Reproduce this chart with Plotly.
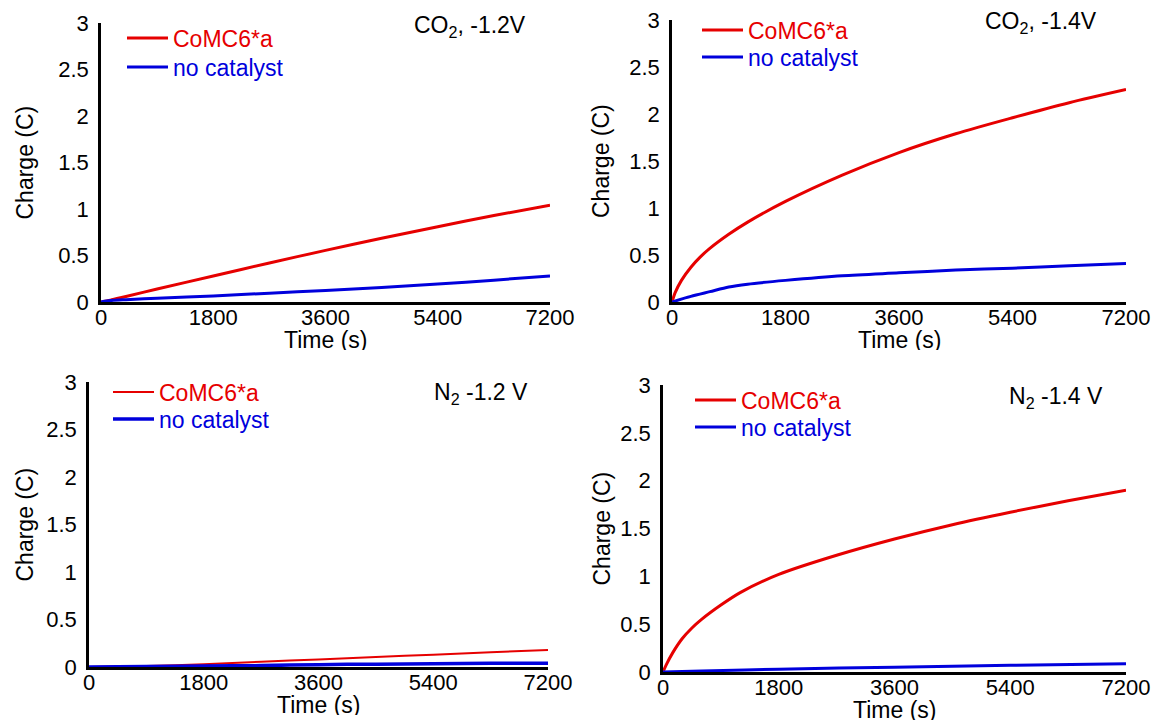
import plotly.graph_objects as go

W, H = 1155, 721

# ---------------- data ----------------
# Panel 1: CO2, -1.2 V
t_p1 = [0, 150, 400, 900, 1800, 2700, 3600, 4500, 5400, 6300, 7200]
q_p1_cat = [0, 0.02, 0.06, 0.14, 0.28, 0.42, 0.555, 0.685, 0.81, 0.93, 1.04]
q_p1_none = [0, 0.015, 0.025, 0.04, 0.065, 0.095, 0.125, 0.157, 0.193, 0.235, 0.28]

# Panel 2: CO2, -1.4 V
t_p2_cat = [0, 50, 150, 300, 450, 600, 900, 1200, 1800, 2700, 3600, 4500, 5400, 6300, 7200]
q_p2_cat = [0, 0.10, 0.23, 0.37, 0.48, 0.57, 0.72, 0.85, 1.07, 1.35, 1.59, 1.79, 1.96, 2.12, 2.26]
t_p2_none = [0, 300, 600, 900, 1200, 1800, 2700, 3600, 4500, 5400, 6300, 7200]
q_p2_none = [0, 0.06, 0.11, 0.16, 0.19, 0.23, 0.28, 0.31, 0.34, 0.36, 0.385, 0.41]

# Panel 3: N2 -1.2 V
t_p3 = [0, 900, 1800, 2700, 3600, 4500, 5400, 6300, 7200]
q_p3_cat = [0, 0.01, 0.03, 0.055, 0.08, 0.105, 0.13, 0.155, 0.18]
q_p3_none = [0, 0.005, 0.01, 0.015, 0.025, 0.03, 0.035, 0.04, 0.04]

# Panel 4: N2 -1.4 V
t_p4_cat = [0, 50, 150, 300, 450, 600, 900, 1200, 1800, 2700, 3600, 4500, 5400, 6300, 7200]
q_p4_cat = [0, 0.075, 0.20, 0.35, 0.46, 0.55, 0.70, 0.83, 1.02, 1.22, 1.39, 1.54, 1.67, 1.79, 1.90]
t_p4_none = [0, 600, 1800, 3600, 5400, 7200]
q_p4_none = [0, 0.01, 0.03, 0.05, 0.07, 0.085]

series_names = ["CoMC6*a", "no catalyst"]
panel_labels = ["CO<sub>2</sub>, -1.2V", "CO<sub>2</sub>, -1.4V",
                "N<sub>2</sub> -1.2 V", "N<sub>2</sub> -1.4 V"]
x_ticks = [0, 1800, 3600, 5400, 7200]
y_ticks = [0, 0.5, 1, 1.5, 2, 2.5, 3]
x_title = "Time (s)"
y_title = "Charge (C)"

RED = "#E60000"
BLUE = "#0000DC"
FONT = "Liberation Sans, Arial, sans-serif"

# ---------------- layout geometry (pixels) ----------------
# (left, right, top, bottom) of each plot area
boxes = [(101, 550, 23, 302), (672, 1126, 20, 302),
         (89, 548, 382, 667), (663, 1126, 385, 672)]
# legend item origin x, and vertical centre of the red / blue entries
legend_x = [122, 697, 108, 690]
legend_yc = [(38, 67), (30, 57), (392, 419), (400, 427)]
label_pos = [(528, 27), (1099, 23), (530, 393), (1105, 397)]
ytitle_x = [24, 601, 24, 601]

panels = [
    (t_p1, q_p1_cat, t_p1, q_p1_none, 3, 3),
    (t_p2_cat, q_p2_cat, t_p2_none, q_p2_none, 3, 3),
    (t_p3, q_p3_cat, t_p3, q_p3_none, 2, 3.5),
    (t_p4_cat, q_p4_cat, t_p4_none, q_p4_none, 3, 3),
]

fig = go.Figure()
layout = dict(width=W, height=H,
              margin=dict(l=0, r=0, t=0, b=0, autoexpand=False),
              paper_bgcolor="white", plot_bgcolor="white",
              font=dict(family=FONT, size=22, color="black"),
              showlegend=True)
annotations = []
LEG_OFF = 21.5  # distance from legend top to the centre of its single entry

for i, (tc, qc, tn, qn, wc, wn) in enumerate(panels):
    k = "" if i == 0 else str(i + 1)
    lg_red = "legend" + ("" if i == 0 else str(2 * i + 1))
    lg_blue = "legend" + str(2 * i + 2)
    fig.add_trace(go.Scatter(
        x=tc, y=qc, mode="lines", line=dict(color=RED, width=wc, shape="spline", smoothing=0.8),
        name=f"<span style='color:{RED}'>{series_names[0]}</span>",
        xaxis="x" + k, yaxis="y" + k, legend=lg_red))
    fig.add_trace(go.Scatter(
        x=tn, y=qn, mode="lines", line=dict(color=BLUE, width=wn, shape="spline", smoothing=0.8),
        name=f"<span style='color:{BLUE}'>{series_names[1]}</span>",
        xaxis="x" + k, yaxis="y" + k, legend=lg_blue))

    l, r, t, b = boxes[i]
    layout["xaxis" + k] = dict(
        domain=[l / W, r / W], anchor="y" + k, range=[0, 7200],
        tickvals=x_ticks, ticktext=[str(v) for v in x_ticks],
        showline=True, linecolor="black", linewidth=2.5,
        showgrid=False, zeroline=False, ticks="", ticklabelstandoff=-6,
        automargin=False,
        tickfont=dict(size=22, color="black", family=FONT))
    layout["yaxis" + k] = dict(
        domain=[1 - b / H, 1 - t / H], anchor="x" + k, range=[0, 3],
        tickvals=y_ticks, ticktext=[f"{v:g}" for v in y_ticks],
        showline=True, linecolor="black", linewidth=2.5,
        showgrid=False, zeroline=False, ticks="", ticklabelstandoff=5,
        automargin=False,
        tickfont=dict(size=22, color="black", family=FONT))

    for lg, yc in ((lg_red, legend_yc[i][0]), (lg_blue, legend_yc[i][1])):
        layout[lg] = dict(x=legend_x[i] / W, y=1 - (yc - LEG_OFF) / H,
                          xanchor="left", yanchor="top",
                          bgcolor="rgba(0,0,0,0)", borderwidth=0,
                          font=dict(size=23, family=FONT), itemwidth=41)

    ax, ay = label_pos[i]
    annotations.append(dict(text=panel_labels[i], x=ax / W, y=1 - ay / H,
                            xref="paper", yref="paper", xanchor="right", yanchor="middle",
                            showarrow=False, font=dict(size=23, family=FONT, color="black")))
    annotations.append(dict(text=x_title, x=(l + r) / 2 / W, y=1 - (b + 38) / H,
                            xref="paper", yref="paper", xanchor="center", yanchor="middle",
                            height=20, valign="middle",
                            showarrow=False, font=dict(size=23, family=FONT, color="black")))
    annotations.append(dict(text=y_title, x=ytitle_x[i] / W, y=1 - (t + b) / 2 / H,
                            xref="paper", yref="paper", xanchor="center", yanchor="middle",
                            textangle=-90,
                            showarrow=False, font=dict(size=23, family=FONT, color="black")))

layout["annotations"] = annotations
fig.update_layout(**layout)
fig.write_html("out.html")
